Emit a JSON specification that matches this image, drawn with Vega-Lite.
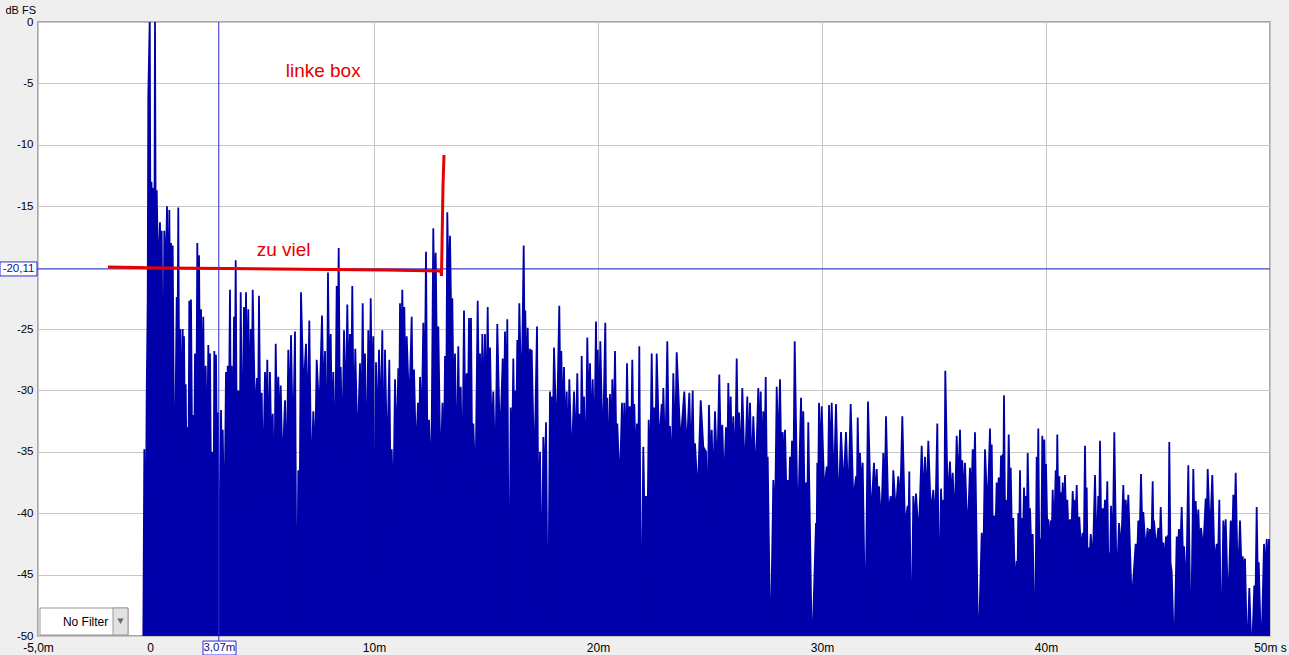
{
"$schema":"https://vega.github.io/schema/vega-lite/v6.json",
"width":1232,"height":614,
"autosize":{"type":"none"},
"padding":{"left":38,"top":22,"right":19,"bottom":19},
"background":"#efefef",
"config":{"view":{"fill":"white","stroke":"#a8a8a8","strokeWidth":2},"font":"Liberation Sans"},
"datasets":{
"ir":[
{"t":-0.313,"v":-55},{"t":-0.254,"v":-34.8},{"t":-0.201,"v":-45},{"t":-0.147,"v":-30.3},{"t":-0.103,"v":-22.7},{"t":-0.076,"v":-6},{"t":-0.013,"v":0},{"t":0.013,"v":-14},{"t":0.067,"v":-13},{"t":0.089,"v":-18},{"t":0.134,"v":-13.5},{"t":0.179,"v":-30},{"t":0.223,"v":0},{"t":0.259,"v":-20},{"t":0.299,"v":-13.7},{"t":0.371,"v":-21},{"t":0.446,"v":-16.3},{"t":0.482,"v":-22},{"t":0.522,"v":-17},{"t":0.58,"v":-35},{"t":0.638,"v":-17},{"t":0.701,"v":-21},{"t":0.759,"v":-15},{"t":0.813,"v":-25},{"t":0.862,"v":-15.3},{"t":0.902,"v":-24},{"t":0.938,"v":-18},{"t":0.982,"v":-26},{"t":1.013,"v":-18.2},{"t":1.094,"v":-40},{"t":1.192,"v":-22.4},{"t":1.228,"v":-27},{"t":1.263,"v":-15.1},{"t":1.308,"v":-32},{"t":1.353,"v":-25},{"t":1.406,"v":-33},{"t":1.46,"v":-25},{"t":1.487,"v":-30},{"t":1.518,"v":-25.6},{"t":1.554,"v":-33},{"t":1.594,"v":-29.5},{"t":1.638,"v":-38},{"t":1.683,"v":-33},{"t":1.719,"v":-36},{"t":1.754,"v":-22.7},{"t":1.795,"v":-28},{"t":1.83,"v":-22.6},{"t":1.884,"v":-36},{"t":1.933,"v":-32},{"t":1.973,"v":-36},{"t":2.009,"v":-27},{"t":2.063,"v":-34},{"t":2.112,"v":-18},{"t":2.152,"v":-25},{"t":2.188,"v":-19},{"t":2.232,"v":-30},{"t":2.277,"v":-23.4},{"t":2.33,"v":-31},{"t":2.379,"v":-24},{"t":2.433,"v":-34},{"t":2.487,"v":-28},{"t":2.545,"v":-36},{"t":2.603,"v":-26.3},{"t":2.643,"v":-31},{"t":2.679,"v":-27},{"t":2.732,"v":-40},{"t":2.781,"v":-35},{"t":2.826,"v":-45},{"t":2.871,"v":-26.8},{"t":2.911,"v":-32},{"t":2.946,"v":-27.1},{"t":3.0,"v":-38},{"t":3.049,"v":-31.8},{"t":3.112,"v":-52},{"t":3.17,"v":-31.6},{"t":3.205,"v":-36},{"t":3.246,"v":-33.2},{"t":3.317,"v":-42},{"t":3.393,"v":-28.5},{"t":3.429,"v":-34},{"t":3.469,"v":-28},{"t":3.518,"v":-33},{"t":3.571,"v":-21.8},{"t":3.607,"v":-33},{"t":3.647,"v":-28},{"t":3.696,"v":-37},{"t":3.75,"v":-24},{"t":3.786,"v":-30},{"t":3.826,"v":-19.4},{"t":3.884,"v":-38},{"t":3.942,"v":-30},{"t":3.996,"v":-40},{"t":4.049,"v":-22},{"t":4.121,"v":-36},{"t":4.196,"v":-23.2},{"t":4.241,"v":-30},{"t":4.286,"v":-22},{"t":4.339,"v":-32},{"t":4.388,"v":-23.4},{"t":4.442,"v":-33},{"t":4.496,"v":-25},{"t":4.54,"v":-31},{"t":4.585,"v":-21.8},
{"t":4.688,"v":-32},{"t":4.777,"v":-29},{"t":4.821,"v":-33},{"t":4.866,"v":-22.3},{"t":4.924,"v":-33},{"t":4.987,"v":-30.2},{"t":5.045,"v":-38},{"t":5.134,"v":-28.5},{"t":5.188,"v":-33},{"t":5.237,"v":-27.5},{"t":5.299,"v":-36},{"t":5.357,"v":-28.5},{"t":5.415,"v":-35},{"t":5.478,"v":-31.9},{"t":5.545,"v":-40},{"t":5.612,"v":-26.2},{"t":5.67,"v":-33},{"t":5.728,"v":-28.9},{"t":5.781,"v":-34},{"t":5.835,"v":-29.6},{"t":5.915,"v":-36.5},{"t":6.027,"v":-30.8},{"t":6.103,"v":-37},{"t":6.174,"v":-26.7},{"t":6.237,"v":-33},{"t":6.295,"v":-25.5},{"t":6.384,"v":-35},{"t":6.473,"v":-25.2},{"t":6.549,"v":-52},{"t":6.621,"v":-36.5},{"t":6.674,"v":-42},{"t":6.741,"v":-22},{"t":6.853,"v":-30.2},{"t":6.964,"v":-26.2},{"t":7.04,"v":-33},{"t":7.112,"v":-24.3},{"t":7.201,"v":-38},{"t":7.29,"v":-31.7},{"t":7.366,"v":-36},{"t":7.442,"v":-27.5},{"t":7.558,"v":-32},{"t":7.679,"v":-23.9},{"t":7.746,"v":-31},{"t":7.813,"v":-26.8},{"t":7.879,"v":-38},{"t":7.946,"v":-20.4},{"t":8.004,"v":-30},{"t":8.067,"v":-25.4},{"t":8.125,"v":-34},{"t":8.183,"v":-28.5},{"t":8.259,"v":-37},{"t":8.335,"v":-21.5},{"t":8.379,"v":-27},{"t":8.424,"v":-18.4},{"t":8.469,"v":-30},{"t":8.513,"v":-28.1},{"t":8.585,"v":-35},{"t":8.661,"v":-25.1},{"t":8.737,"v":-32},{"t":8.808,"v":-23},{"t":8.871,"v":-30},{"t":8.929,"v":-25.4},{"t":8.982,"v":-31},{"t":9.031,"v":-21.5},{"t":9.098,"v":-34},{"t":9.165,"v":-26.6},{"t":9.263,"v":-34.8},{"t":9.375,"v":-27.8},{"t":9.433,"v":-34},{"t":9.496,"v":-22.9},{"t":9.545,"v":-32},{"t":9.598,"v":-27},{"t":9.674,"v":-37},{"t":9.746,"v":-25.1},{"t":9.799,"v":-33},{"t":9.853,"v":-22.5},{"t":9.911,"v":-31},{"t":9.969,"v":-25.6},{"t":10.031,"v":-52},{"t":10.089,"v":-27.7},{"t":10.156,"v":-34},{"t":10.223,"v":-26.7},{"t":10.299,"v":-33},{"t":10.371,"v":-25.1},{"t":10.433,"v":-38},{"t":10.491,"v":-26.7},{"t":10.589,"v":-36},{"t":10.683,"v":-27.5},{"t":10.737,"v":-38},{"t":10.79,"v":-34.8},{"t":10.862,"v":-40},{"t":10.938,"v":-29.1},{"t":11.013,"v":-35},{"t":11.085,"v":-28.2},{"t":11.125,"v":-33},{"t":11.161,"v":-22.9},{"t":11.214,"v":-28},{"t":11.263,"v":-21.8},{"t":11.308,"v":-27},{"t":11.353,"v":-23.2},{"t":11.406,"v":-30},{"t":11.46,"v":-25.6},{"t":11.571,"v":-31.6},{"t":11.683,"v":-24},{"t":11.732,"v":-32},{"t":11.786,"v":-28.3},{"t":11.875,"v":-35.4},{"t":11.964,"v":-31},{"t":12.009,"v":-36},{"t":12.054,"v":-28.9},{"t":12.129,"v":-33},{"t":12.201,"v":-24.5},{"t":12.263,"v":-31},{"t":12.321,"v":-18.7},{"t":12.388,"v":-36},{"t":12.455,"v":-32.4},{"t":12.554,"v":-38},{"t":12.647,"v":-16.8},{"t":12.701,"v":-24},{"t":12.754,"v":-18.8},{"t":12.813,"v":-28},{"t":12.871,"v":-24.8},{"t":12.969,"v":-37},{"t":13.058,"v":-31},{"t":13.125,"v":-36},{"t":13.17,"v":-27.2},{"t":13.223,"v":-32},{"t":13.272,"v":-15.5},{"t":13.335,"v":-22},{"t":13.393,"v":-17.4},{"t":13.446,"v":-24},{"t":13.496,"v":-22.5},{"t":13.558,"v":-32},{"t":13.616,"v":-27},{"t":13.692,"v":-37},{"t":13.763,"v":-26.4},{"t":13.817,"v":-34},{"t":13.871,"v":-29.7},{"t":13.942,"v":-38},{"t":14.018,"v":-23.5},{"t":14.076,"v":-33},{"t":14.138,"v":-28.6},{"t":14.188,"v":-33},{"t":14.241,"v":-24.1},{"t":14.286,"v":-30},{"t":14.33,"v":-24.1},{"t":14.384,"v":-36},{"t":14.433,"v":-32.7},{"t":14.531,"v":-38},{"t":14.629,"v":-22.7},{"t":14.679,"v":-30},{"t":14.732,"v":-27},{"t":14.786,"v":-33},{"t":14.835,"v":-25.4},{"t":14.897,"v":-32},{"t":14.955,"v":-25.4},{"t":15.013,"v":-33},{"t":15.076,"v":-23.2},{"t":15.125,"v":-31},{"t":15.179,"v":-26.5},
{"t":15.254,"v":-34},{"t":15.326,"v":-30.1},{"t":15.415,"v":-37},{"t":15.504,"v":-24.6},{"t":15.625,"v":-34.6},{"t":15.746,"v":-27.4},{"t":15.795,"v":-33},{"t":15.848,"v":-25.2},{"t":15.902,"v":-32},{"t":15.951,"v":-24.2},{"t":16.027,"v":-52},{"t":16.103,"v":-31.4},{"t":16.161,"v":-36},{"t":16.219,"v":-27.4},{"t":16.259,"v":-33},{"t":16.295,"v":-30},{"t":16.348,"v":-34},{"t":16.397,"v":-25.9},{"t":16.442,"v":-30},{"t":16.487,"v":-22.9},{"t":16.585,"v":-31.5},{"t":16.683,"v":-18.2},{"t":16.719,"v":-26},{"t":16.754,"v":-23.5},{"t":16.808,"v":-30},{"t":16.862,"v":-24.9},{"t":16.911,"v":-31},{"t":16.964,"v":-26.6},{"t":17.0,"v":-31},{"t":17.04,"v":-26.7},{"t":17.156,"v":-37},{"t":17.277,"v":-24.8},{"t":17.344,"v":-42},{"t":17.411,"v":-35},{"t":17.487,"v":-47},{"t":17.558,"v":-33.8},{"t":17.621,"v":-38},{"t":17.679,"v":-32.6},{"t":17.768,"v":-52},{"t":17.857,"v":-30.1},{"t":17.893,"v":-34},{"t":17.933,"v":-30.5},{"t":17.982,"v":-34},{"t":18.036,"v":-26.5},{"t":18.156,"v":-34.2},{"t":18.272,"v":-23.1},{"t":18.317,"v":-30},{"t":18.362,"v":-26.8},{"t":18.424,"v":-33},{"t":18.482,"v":-28.1},{"t":18.54,"v":-34},{"t":18.603,"v":-30.1},{"t":18.661,"v":-36},{"t":18.719,"v":-29.1},{"t":18.826,"v":-36},{"t":18.929,"v":-30.1},{"t":19.004,"v":-35},{"t":19.076,"v":-28.6},{"t":19.121,"v":-34},{"t":19.165,"v":-31.9},{"t":19.219,"v":-37},{"t":19.272,"v":-27.2},{"t":19.321,"v":-33},{"t":19.375,"v":-30.5},{"t":19.451,"v":-37},{"t":19.522,"v":-25.7},{"t":19.585,"v":-32},{"t":19.643,"v":-27.8},{"t":19.701,"v":-34},{"t":19.763,"v":-29.1},{"t":19.835,"v":-35},{"t":19.911,"v":-24.4},{"t":19.946,"v":-31},{"t":19.987,"v":-26.7},{"t":20.045,"v":-33},{"t":20.103,"v":-26},{"t":20.214,"v":-35.3},{"t":20.326,"v":-24.5},{"t":20.371,"v":-33},{"t":20.415,"v":-30.6},{"t":20.469,"v":-37},{"t":20.536,"v":-30.3},{"t":20.589,"v":-36},{"t":20.638,"v":-29.1},{"t":20.701,"v":-34},{"t":20.759,"v":-26.8},{"t":20.813,"v":-34},{"t":20.862,"v":-32.7},{"t":20.969,"v":-38},{"t":21.071,"v":-31},{"t":21.125,"v":-36},{"t":21.174,"v":-31},{"t":21.237,"v":-36},{"t":21.295,"v":-27.8},{"t":21.353,"v":-34},{"t":21.415,"v":-31.3},{"t":21.473,"v":-35},{"t":21.531,"v":-27.5},{"t":21.576,"v":-33},{"t":21.621,"v":-31.1},{"t":21.683,"v":-36},{"t":21.741,"v":-32.7},{"t":21.795,"v":-37},{"t":21.844,"v":-26.4},{"t":21.933,"v":-52},{"t":22.022,"v":-34.6},{"t":22.085,"v":-41},{"t":22.143,"v":-38.6},{"t":22.201,"v":-43},{"t":22.263,"v":-32.4},{"t":22.33,"v":-37},{"t":22.397,"v":-27},{"t":22.446,"v":-33},{"t":22.5,"v":-31.4},{"t":22.558,"v":-35},{"t":22.621,"v":-27},{"t":22.732,"v":-34.6},{"t":22.844,"v":-31.1},{"t":22.879,"v":-35},{"t":22.915,"v":-29.8},{"t":23.004,"v":-36},{"t":23.094,"v":-26},{"t":23.156,"v":-34},{"t":23.214,"v":-32.9},{"t":23.29,"v":-37},{"t":23.362,"v":-28.6},{"t":23.438,"v":-35},{"t":23.513,"v":-26.9},{"t":23.683,"v":-34.3},{"t":23.853,"v":-30.1},{"t":23.964,"v":-35},{"t":24.076,"v":-30.2},{"t":24.152,"v":-36},{"t":24.228,"v":-30},{"t":24.277,"v":-36},{"t":24.33,"v":-34.3},{"t":24.455,"v":-38.6},{"t":24.585,"v":-30.8},{"t":24.701,"v":-34.6},{"t":24.821,"v":-35},{"t":24.888,"v":-41},{"t":24.955,"v":-31.2},{"t":25.013,"v":-36},{"t":25.076,"v":-33.2},{"t":25.147,"v":-38},{"t":25.223,"v":-31.7},{"t":25.321,"v":-37},{"t":25.415,"v":-28.7},{"t":25.482,"v":-35},{"t":25.549,"v":-32.8},{"t":25.625,"v":-38},{"t":25.714,"v":-33},{"t":25.768,"v":-37},{"t":25.817,"v":-29.4},{"t":25.871,"v":-35},{"t":25.924,"v":-30.5},{"t":25.982,"v":-36},{"t":26.04,"v":-32.1},
{"t":26.116,"v":-37},{"t":26.192,"v":-27.4},{"t":26.241,"v":-34},{"t":26.295,"v":-31.8},{"t":26.371,"v":-36},{"t":26.442,"v":-29.8},{"t":26.554,"v":-37.2},{"t":26.665,"v":-30.5},{"t":26.728,"v":-36},{"t":26.786,"v":-31},{"t":26.862,"v":-37},{"t":26.933,"v":-32.1},{"t":27.04,"v":-37.2},{"t":27.156,"v":-29.8},{"t":27.21,"v":-35},{"t":27.263,"v":-30.1},{"t":27.321,"v":-36},{"t":27.379,"v":-31.7},{"t":27.433,"v":-36},{"t":27.487,"v":-28.9},{"t":27.531,"v":-36},{"t":27.576,"v":-35.4},{"t":27.701,"v":-52},{"t":27.826,"v":-37.3},{"t":27.902,"v":-41},{"t":27.978,"v":-29.7},{"t":28.049,"v":-35},{"t":28.125,"v":-29.1},{"t":28.183,"v":-36},{"t":28.246,"v":-33.4},{"t":28.295,"v":-37},{"t":28.348,"v":-33.2},{"t":28.406,"v":-38},{"t":28.469,"v":-37.3},{"t":28.518,"v":-40},{"t":28.571,"v":-35.4},{"t":28.616,"v":-38},{"t":28.661,"v":-34.1},{"t":28.719,"v":-38},{"t":28.781,"v":-26},{"t":28.92,"v":-41.8},{"t":29.063,"v":-30.6},{"t":29.116,"v":-36},{"t":29.165,"v":-31.7},{"t":29.228,"v":-40},{"t":29.286,"v":-37.5},{"t":29.339,"v":-40},{"t":29.388,"v":-32.6},{"t":29.554,"v":-52},{"t":29.732,"v":-40.8},{"t":29.763,"v":-42},{"t":29.79,"v":-35.9},{"t":29.83,"v":-38},{"t":29.866,"v":-31},{"t":29.924,"v":-36},{"t":29.987,"v":-31.3},{"t":30.098,"v":-38.3},{"t":30.21,"v":-36.2},{"t":30.259,"v":-39},{"t":30.313,"v":-31.2},{"t":30.371,"v":-36},{"t":30.433,"v":-31},{"t":30.527,"v":-38.2},{"t":30.625,"v":-31.1},{"t":30.737,"v":-40},{"t":30.848,"v":-33.4},{"t":30.96,"v":-38},{"t":31.071,"v":-33.4},{"t":31.174,"v":-39},{"t":31.281,"v":-31.1},{"t":31.397,"v":-39},{"t":31.518,"v":-37},{"t":31.554,"v":-39},{"t":31.594,"v":-32.2},{"t":31.643,"v":-37},{"t":31.696,"v":-35.1},{"t":31.754,"v":-38},{"t":31.817,"v":-35.9},{"t":31.933,"v":-50},{"t":32.054,"v":-30.9},{"t":32.188,"v":-40.5},{"t":32.321,"v":-35.9},{"t":32.379,"v":-39},{"t":32.442,"v":-36.4},{"t":32.491,"v":-39},{"t":32.545,"v":-37.8},{"t":32.643,"v":-41},{"t":32.737,"v":-35.1},{"t":32.799,"v":-39},{"t":32.857,"v":-32.1},{"t":32.96,"v":-40},{"t":33.067,"v":-38.6},{"t":33.125,"v":-41},{"t":33.183,"v":-36.5},{"t":33.295,"v":-40},{"t":33.406,"v":-37},{"t":33.496,"v":-39},{"t":33.585,"v":-32.1},{"t":33.705,"v":-41},{"t":33.826,"v":-39.4},{"t":33.862,"v":-41},{"t":33.897,"v":-36.6},{"t":33.987,"v":-52},{"t":34.076,"v":-38.6},{"t":34.138,"v":-41},{"t":34.196,"v":-38.4},{"t":34.321,"v":-42},{"t":34.451,"v":-34.5},{"t":34.522,"v":-39},{"t":34.598,"v":-35.4},{"t":34.674,"v":-39},{"t":34.746,"v":-34.1},{"t":34.857,"v":-40},{"t":34.969,"v":-38.1},{"t":35.058,"v":-41},{"t":35.147,"v":-32.7},{"t":35.232,"v":-48},{"t":35.313,"v":-38},{"t":35.366,"v":-41},{"t":35.415,"v":-38.9},{"t":35.46,"v":-41},{"t":35.504,"v":-28.4},{"t":35.612,"v":-39},{"t":35.714,"v":-35.8},{"t":35.772,"v":-39},{"t":35.835,"v":-36.7},{"t":35.924,"v":-41},{"t":36.013,"v":-33.7},{"t":36.085,"v":-38},{"t":36.161,"v":-33.2},{"t":36.214,"v":-38},{"t":36.263,"v":-35.7},{"t":36.326,"v":-39},{"t":36.384,"v":-35.9},{"t":36.496,"v":-42},{"t":36.607,"v":-36.3},{"t":36.665,"v":-39},{"t":36.728,"v":-34.8},{"t":36.777,"v":-38},{"t":36.83,"v":-33.4},{"t":36.978,"v":-52},{"t":37.129,"v":-41.6},{"t":37.201,"v":-44},{"t":37.277,"v":-34.8},{"t":37.388,"v":-40},{"t":37.5,"v":-33.1},
{"t":37.536,"v":-37},{"t":37.576,"v":-34.4},{"t":37.625,"v":-42},{"t":37.679,"v":-40.2},{"t":37.737,"v":-42},{"t":37.799,"v":-37.5},{"t":37.844,"v":-40},{"t":37.888,"v":-37.1},{"t":37.938,"v":-40},{"t":37.991,"v":-35.3},{"t":38.027,"v":-38},{"t":38.067,"v":-35.2},{"t":38.094,"v":-38},{"t":38.125,"v":-30.4},{"t":38.17,"v":-40},{"t":38.214,"v":-38.9},{"t":38.272,"v":-42},{"t":38.335,"v":-33.6},{"t":38.379,"v":-38},{"t":38.424,"v":-36.3},{"t":38.482,"v":-42},{"t":38.54,"v":-40.4},{"t":38.616,"v":-46},{"t":38.692,"v":-43.9},{"t":38.728,"v":-45},{"t":38.763,"v":-40},{"t":38.804,"v":-42},{"t":38.839,"v":-36.5},{"t":38.875,"v":-42},{"t":38.915,"v":-40.4},{"t":38.964,"v":-43},{"t":39.018,"v":-37.9},{"t":39.063,"v":-41},{"t":39.107,"v":-38.6},{"t":39.143,"v":-41},{"t":39.183,"v":-35.1},{"t":39.232,"v":-40},{"t":39.286,"v":-39.6},{"t":39.344,"v":-43},{"t":39.406,"v":-41.7},{"t":39.509,"v":-52},{"t":39.585,"v":-35.4},{"t":39.621,"v":-39},{"t":39.656,"v":-33.1},{"t":39.696,"v":-42},{"t":39.732,"v":-42.3},{"t":39.786,"v":-44},{"t":39.835,"v":-33.7},{"t":39.879,"v":-38},{"t":39.924,"v":-34},{"t":39.964,"v":-39},{"t":40.0,"v":-36},{"t":40.054,"v":-41},{"t":40.103,"v":-40.5},{"t":40.156,"v":-43},{"t":40.21,"v":-40.6},{"t":40.254,"v":-42},{"t":40.299,"v":-38.1},{"t":40.366,"v":-42},{"t":40.433,"v":-36.5},{"t":40.469,"v":-40},{"t":40.504,"v":-33.6},{"t":40.549,"v":-40},{"t":40.594,"v":-37},{"t":40.634,"v":-41},{"t":40.67,"v":-38.3},{"t":40.705,"v":-40},{"t":40.746,"v":-37.5},{"t":40.795,"v":-41},{"t":40.848,"v":-36.9},{"t":40.902,"v":-41},{"t":40.951,"v":-38.9},{"t":41.013,"v":-42},{"t":41.071,"v":-40.5},{"t":41.129,"v":-42},{"t":41.192,"v":-38.2},{"t":41.228,"v":-40},{"t":41.263,"v":-38.9},{"t":41.317,"v":-41},{"t":41.371,"v":-37.7},{"t":41.429,"v":-42},{"t":41.487,"v":-40.3},{"t":41.563,"v":-43},{"t":41.638,"v":-41.6},{"t":41.688,"v":-43},{"t":41.741,"v":-34.5},{"t":41.777,"v":-40},{"t":41.817,"v":-37.9},{"t":41.853,"v":-44},{"t":41.888,"v":-42.8},{"t":41.942,"v":-44},{"t":41.996,"v":-41.7},{"t":42.089,"v":-44},{"t":42.188,"v":-36.9},{"t":42.263,"v":-43.7},{"t":42.335,"v":-38.6},{"t":42.375,"v":-41},{"t":42.411,"v":-34.1},{"t":42.469,"v":-42},{"t":42.531,"v":-39.6},{"t":42.58,"v":-41},{"t":42.634,"v":-38.9},{"t":42.688,"v":-41},{"t":42.737,"v":-37.4},{"t":42.781,"v":-44},{"t":42.826,"v":-43.2},{"t":42.866,"v":-44},{"t":42.902,"v":-39.4},{"t":42.978,"v":-43},{"t":43.049,"v":-33.4},{"t":43.156,"v":-46.3},{"t":43.259,"v":-40.8},{"t":43.357,"v":-43},{"t":43.451,"v":-37.7},{"t":43.504,"v":-41},{"t":43.558,"v":-38.9},{"t":43.616,"v":-41},{"t":43.674,"v":-38.5},{"t":43.826,"v":-47.3},{"t":44.004,"v":-42.5},{"t":44.063,"v":-44},{"t":44.121,"v":-40.6},{"t":44.183,"v":-42},{"t":44.241,"v":-36.8},{"t":44.295,"v":-41},{"t":44.344,"v":-39.9},{"t":44.442,"v":-43},{"t":44.54,"v":-41.2},{"t":44.589,"v":-43},{"t":44.643,"v":-41.3},{"t":44.701,"v":-43},{"t":44.763,"v":-37.4},{"t":44.79,"v":-41},{"t":44.821,"v":-40.6},{"t":44.92,"v":-43},{"t":45.013,"v":-41.2},{"t":45.067,"v":-43},{"t":45.121,"v":-39.5},{"t":45.179,"v":-43},{"t":45.237,"v":-42.4},{"t":45.299,"v":-44},{"t":45.357,"v":-41.9},{"t":45.393,"v":-43},{"t":45.433,"v":-41.8},{"t":45.469,"v":-43},{"t":45.504,"v":-34.2},{"t":45.558,"v":-44},{"t":45.612,"v":-44.8},{"t":45.723,"v":-52},{"t":45.835,"v":-41.9},{"t":45.884,"v":-43},{"t":45.938,"v":-41.3},{"t":45.996,"v":-43},{"t":46.058,"v":-39.5},{"t":46.107,"v":-43},{"t":46.161,"v":-42.7},{"t":46.259,"v":-46.3},{"t":46.353,"v":-36.1},{"t":46.464,"v":-52},{"t":46.576,"v":-36.4},{"t":46.629,"v":-41},{"t":46.683,"v":-39},{"t":46.741,"v":-42},{"t":46.799,"v":-39.7},{"t":46.862,"v":-43},{"t":46.92,"v":-41.2},{"t":47.022,"v":-43},{"t":47.129,"v":-38.8},{"t":47.174,"v":-41},{"t":47.219,"v":-36.4},{"t":47.321,"v":-42},{"t":47.424,"v":-36.9},{"t":47.522,"v":-44},{"t":47.621,"v":-42.5},{"t":47.679,"v":-44},{"t":47.737,"v":-38.9},{"t":47.826,"v":-52},{"t":47.915,"v":-40.6},{"t":47.969,"v":-43},{"t":48.022,"v":-40.5},{"t":48.134,"v":-48},{"t":48.246,"v":-40.6},{"t":48.304,"v":-43},{"t":48.362,"v":-38.5},{"t":48.415,"v":-41},{"t":48.469,"v":-36.7},{"t":48.563,"v":-46},{"t":48.661,"v":-40.6},{"t":48.719,"v":-44},{"t":48.781,"v":-43.5},{"t":48.83,"v":-45},{"t":48.884,"v":-43.7},{"t":48.982,"v":-52},{"t":49.076,"v":-46.1},{"t":49.188,"v":-52},{"t":49.299,"v":-45.9},{"t":49.353,"v":-47},{"t":49.406,"v":-39.5},{"t":49.451,"v":-45},{"t":49.496,"v":-44},{"t":49.612,"v":-52},{"t":49.732,"v":-42.5},{"t":49.79,"v":-45},{"t":49.853,"v":-42.1},{"t":49.902,"v":-45},{"t":49.955,"v":-42.1},{"t":50.022,"v":-46}
],
"red":[
{"t":-1.875,"v":-19.95},{"t":0.67,"v":-20.03},{"t":5.58,"v":-20.11},{"t":10.491,"v":-20.2},{"t":12.991,"v":-20.28},{"t":13.013,"v":-20.68},{"t":13.036,"v":-18.24},{"t":13.08,"v":-13.36},{"t":13.125,"v":-10.83}
]
},
"layer":[
{
"data":{"name":"ir"},
"mark":{"type":"area","color":"#0000aa","clip":true},
"encoding":{
"x":{"field":"t","type":"quantitative","scale":{"domain":[-5,50],"nice":false,"zero":false},
"axis":{"title":null,"values":[-5,0,10,20,30,40,50],"labelExpr":"datum.value == -5 ? '-5,0m' : datum.value == 0 ? '0' : datum.value == 50 ? '50m s' : datum.value + 'm'","grid":true,"gridColor":"#c6c6c6","domain":false,"ticks":false,"labelPadding":6,"labelFontSize":12,"labelColor":"#000000","labelFont":"Liberation Sans","labelFlush":false,"labelOverlap":false}},
"y":{"field":"v","type":"quantitative","scale":{"domain":[-50,0],"nice":false,"zero":false},
"axis":{"title":"dB FS","titleAngle":0,"titleX":-33,"titleY":-12,"titleAlign":"left","titleBaseline":"middle","titleFontWeight":"normal","titleFontSize":11,"titleFont":"Liberation Sans","titleColor":"#000000","values":[-50,-45,-40,-35,-30,-25,-20,-15,-10,-5,0],"labelExpr":"datum.value == -20 ? '' : '' + datum.value","grid":true,"gridColor":"#c6c6c6","domain":false,"ticks":false,"labelPadding":5,"labelFontSize":11.5,"labelColor":"#000000","labelFont":"Liberation Sans","labelFlush":false,"labelOverlap":false}},
"y2":{"datum":-50}
}
},
{
"data":{"values":[{"v":-20.11}]},
"mark":{"type":"rule","color":"#2b2be6","strokeWidth":1},
"encoding":{"y":{"field":"v","type":"quantitative"},"x":{"datum":-5.05},"x2":{"datum":50}}
},
{
"data":{"name":"ir"},
"mark":{"type":"line","color":"#0000aa","strokeWidth":1.8,"clip":true},
"encoding":{"x":{"field":"t","type":"quantitative"},"y":{"field":"v","type":"quantitative"}}
},
{
"data":{"values":[{"t":3.07}]},
"mark":{"type":"rule","color":"#2a2ad0","strokeWidth":1},
"encoding":{"x":{"field":"t","type":"quantitative"},"y":{"datum":0},"y2":{"datum":-50.41}}
},
{
"data":{"name":"red"},
"mark":{"type":"line","color":"#e60000","strokeWidth":3},
"encoding":{"x":{"field":"t","type":"quantitative"},"y":{"field":"v","type":"quantitative"}}
},
{
"data":{"values":[{"t":6.058,"v":-4.5,"label":"linke box"},{"t":4.763,"v":-19.06,"label":"zu viel"}]},
"mark":{"type":"text","align":"left","baseline":"alphabetic","fontSize":19,"font":"Liberation Sans","color":"#e60000"},
"encoding":{"x":{"field":"t","type":"quantitative"},"y":{"field":"v","type":"quantitative"},"text":{"field":"label"}}
},
{
"data":{"values":[{"t":-6.696,"t2":-5.045,"v":-19.54,"v2":-20.68},{"t":2.366,"t2":3.839,"v":-50.41,"v2":-51.55}]},
"mark":{"type":"rect","fill":"#ffffff","stroke":"#2b2be6","strokeWidth":1},
"encoding":{"x":{"field":"t","type":"quantitative"},"x2":{"field":"t2"},"y":{"field":"v","type":"quantitative"},"y2":{"field":"v2"}}
},
{
"data":{"values":[{"t":-5.87,"v":-20.11,"label":"-20,11"},{"t":3.1,"v":-50.98,"label":"3,07m"}]},
"mark":{"type":"text","align":"center","baseline":"middle","fontSize":11.5,"font":"Liberation Sans","color":"#10108a"},
"encoding":{"x":{"field":"t","type":"quantitative"},"y":{"field":"v","type":"quantitative"},"text":{"field":"label"}}
},
{
"data":{"values":[{"t":-4.911,"t2":-0.982,"v":-47.72,"v2":-49.92}]},
"mark":{"type":"rect","fill":"#ffffff","stroke":"#9a9a9a","strokeWidth":1},
"encoding":{"x":{"field":"t","type":"quantitative"},"x2":{"field":"t2"},"y":{"field":"v","type":"quantitative"},"y2":{"field":"v2"}}
},
{
"data":{"values":[{"t":-1.652,"t2":-0.982,"v":-47.72,"v2":-49.92}]},
"mark":{"type":"rect","fill":"#e2e2e2","stroke":"#9a9a9a","strokeWidth":1},
"encoding":{"x":{"field":"t","type":"quantitative"},"x2":{"field":"t2"},"y":{"field":"v","type":"quantitative"},"y2":{"field":"v2"}}
},
{
"data":{"values":[{"t":-1.317,"v":-48.8}]},
"mark":{"type":"point","shape":"triangle-down","filled":true,"color":"#333333","size":40},
"encoding":{"x":{"field":"t","type":"quantitative"},"y":{"field":"v","type":"quantitative"}}
},
{
"data":{"values":[{"t":-1.862,"v":-48.85,"label":"No Filter"}]},
"mark":{"type":"text","align":"right","baseline":"middle","fontSize":12,"font":"Liberation Sans","color":"#000000"},
"encoding":{"x":{"field":"t","type":"quantitative"},"y":{"field":"v","type":"quantitative"},"text":{"field":"label"}}
}
]
}
